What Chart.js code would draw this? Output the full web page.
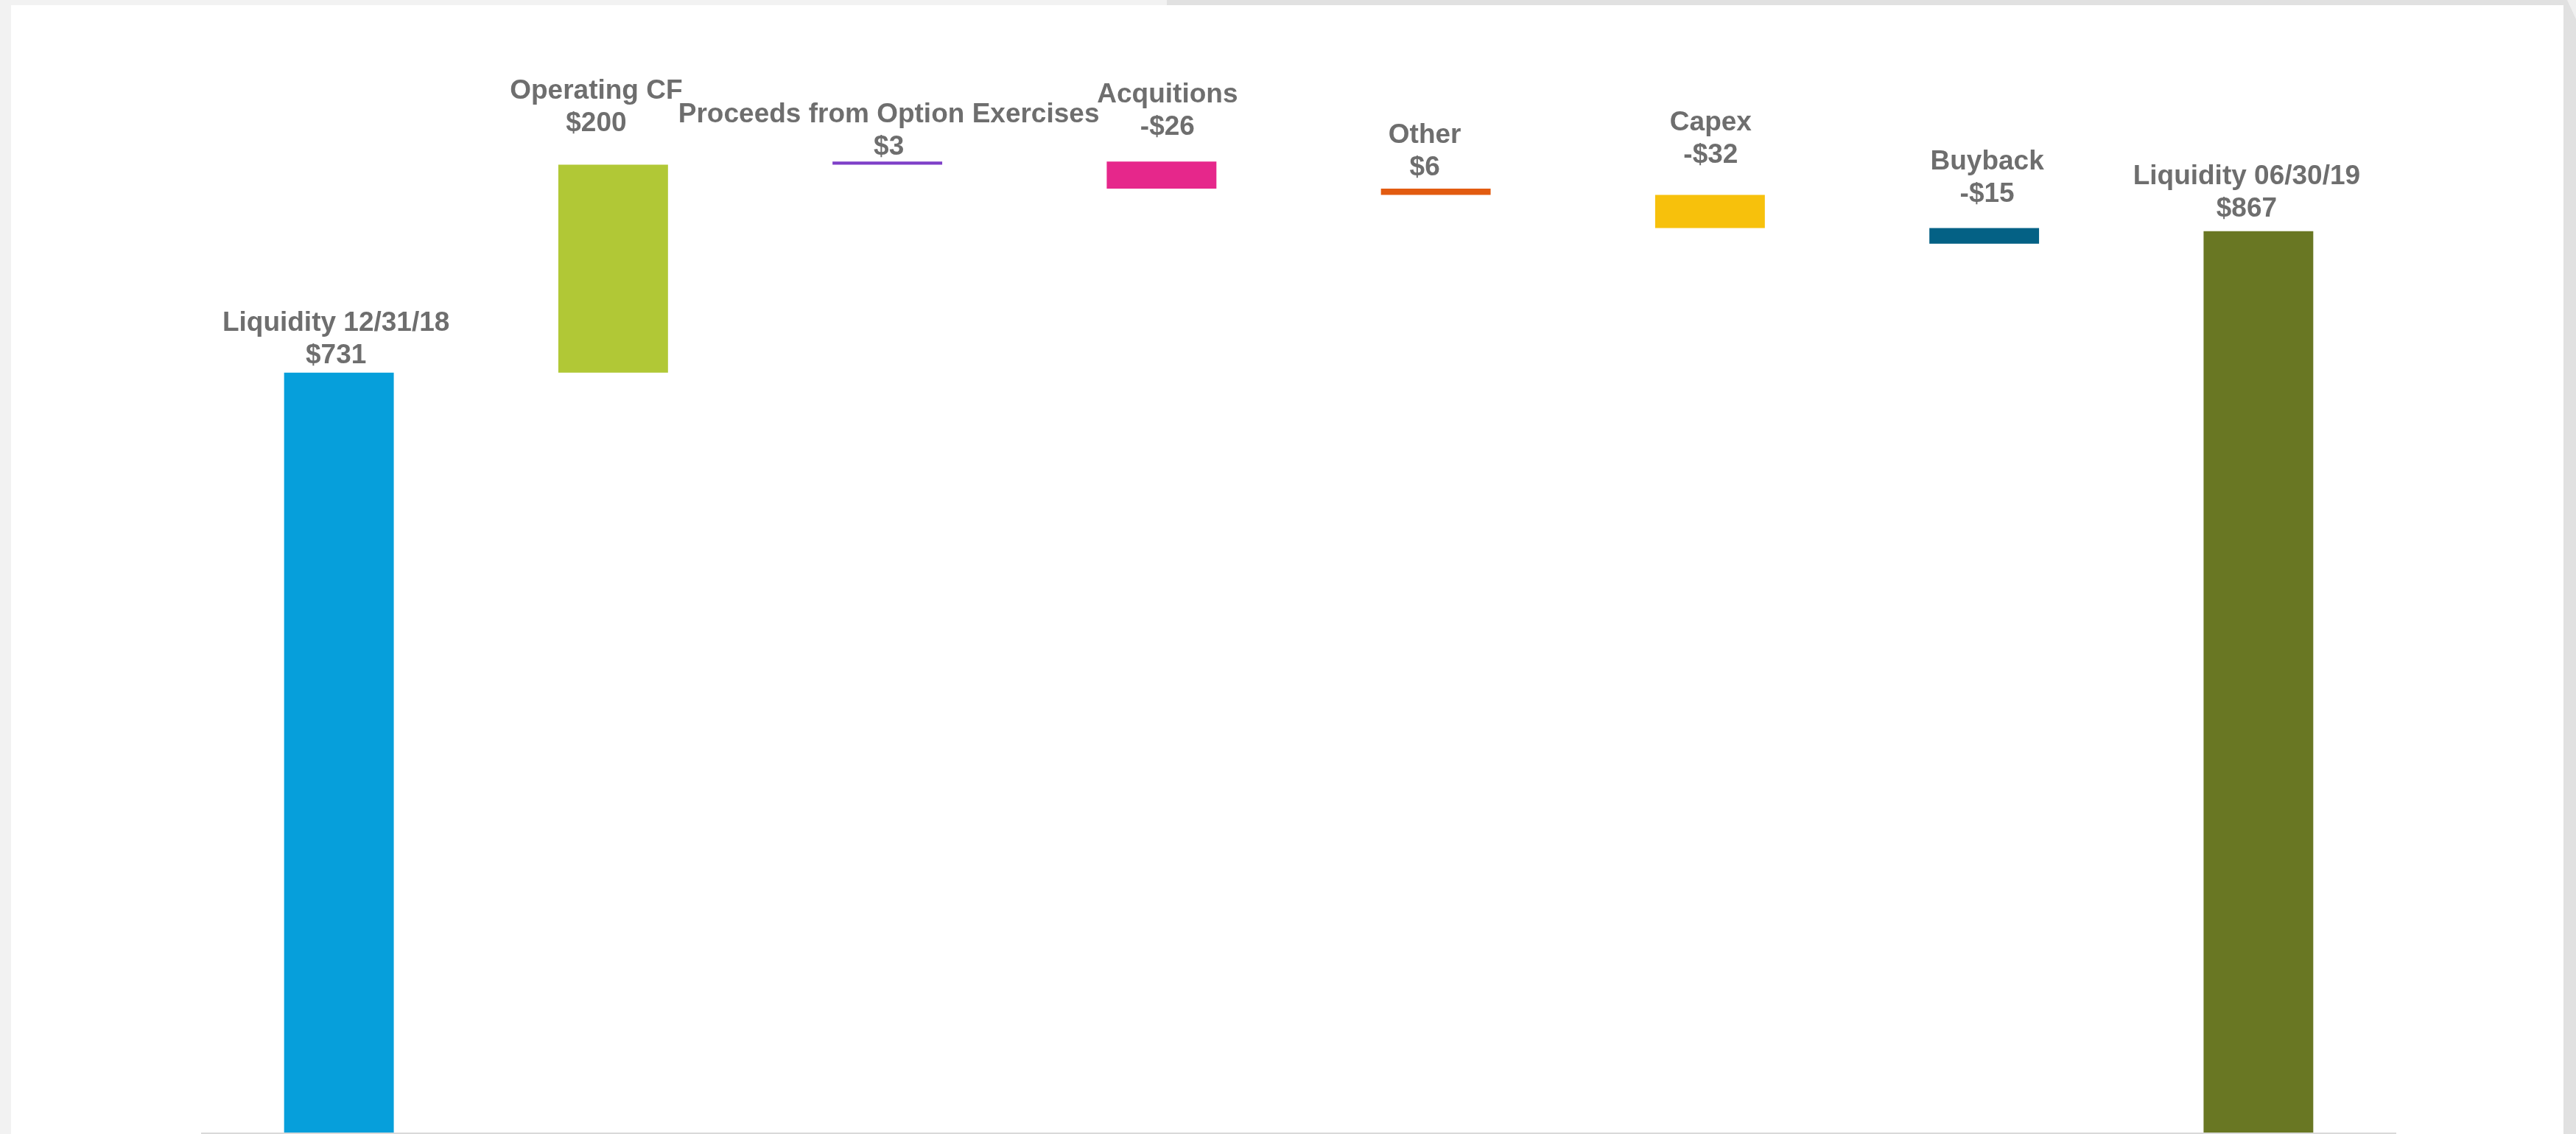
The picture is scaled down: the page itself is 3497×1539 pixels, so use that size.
<!DOCTYPE html>
<html>
<head>
<meta charset="utf-8">
<title>Liquidity bridge</title>
<script src="https://cdn.jsdelivr.net/npm/chart.js@4.4.1/dist/chart.umd.min.js"></script>
<style>
    html, body { margin: 0; padding: 0; }
    body {
        width: 3497px;
        height: 1539px;
        background: #f2f2f2;
        position: relative;
        overflow: hidden;
    }
    #topStrip {
        position: absolute; left: 1584px; top: 0; width: 1913px; height: 7px;
        background: #e1e1e1;
    }
    #rightStrip {
        position: absolute; left: 3480px; top: 0; width: 17px; height: 1539px;
        background: #e1e1e1;
    }
    #rightCorner {
        position: absolute; left: 3485px; top: 0; width: 12px; height: 26px;
        background: #f0f0f0;
        clip-path: polygon(0 0, 100% 0, 100% 100%);
    }
    #panel {
        position: absolute; left: 15px; top: 7px; width: 3465px; height: 1532px;
        background: #ffffff;
    }
</style>
</head>
<body>
<div id="topStrip"></div>
<div id="rightStrip"></div>
<div id="rightCorner"></div>
<div id="panel">
    <canvas id="bridgeChart" width="3465" height="1532"></canvas>
</div>
<script>
var categories = ['Liquidity 12/31/18', 'Operating CF', 'Proceeds from Option Exercises', 'Acquitions',
                  'Other', 'Capex', 'Buyback', 'Liquidity 06/30/19'];
// change for each step, in $M
var amounts = [731, 200, 3, -26, 6, -32, -15, 867];
// where each floating bar starts
var barBase = [0, 731, 931, 908, 902, 870, 855, 0];

var barColors = ['#069fdb', '#b1c836', '#7e3fc8', '#e6278b', '#e25b10', '#f7c10c', '#046185', '#697723'];
// label nudges [dx, gap above bar top] in px
var labelShift = [[-4, 13], [-23, 45], [2, 9], [8, 36], [-15, 18], [1, 43], [4, 36], [-16, 20]];

function money(v) {
    return (v < 0 ? '-$' : '$') + Math.abs(v);
}

var barLabels = {
    id: 'barLabels',
    afterDatasetsDraw: function(chart) {
        var ctx = chart.ctx;
        var meta = chart.getDatasetMeta(0);
        ctx.save();
        ctx.font = 'bold 37px "Liberation Sans", Arial, sans-serif';
        ctx.fillStyle = '#6e6e6e';
        ctx.textAlign = 'center';
        ctx.textBaseline = 'alphabetic';
        meta.data.forEach(function(bar, i) {
            var top = Math.min(bar.y, bar.base);
            var x = bar.x + labelShift[i][0];
            var y = top - labelShift[i][1];
            ctx.fillText(money(amounts[i]), x, y);
            ctx.fillText(categories[i], x, y - 44);
        });
        ctx.restore();
    }
};

new Chart(document.getElementById('bridgeChart'), {
    type: 'bar',
    data: {
        labels: categories,
        datasets: [{
            data: amounts.map(function(a, i) { return [barBase[i], barBase[i] + Math.abs(a)]; }),
            backgroundColor: barColors,
            borderWidth: 0,
            barPercentage: 0.4,
            categoryPercentage: 1.0
        }]
    },
    options: {
        responsive: false,
        animation: false,
        devicePixelRatio: 1,
        layout: {
            padding: { left: 259, right: 228, top: 119, bottom: 1 }
        },
        plugins: {
            legend: { display: false },
            tooltip: { enabled: false },
            title: { display: false }
        },
        scales: {
            x: {
                display: true,
                grid: { display: false, drawTicks: false },
                ticks: { display: false },
                border: { display: true, color: '#d9d9d9', width: 2, z: 1 }
            },
            y: {
                display: false,
                min: 0,
                max: 1000
            }
        }
    },
    plugins: [barLabels]
});
</script>
</body>
</html>
